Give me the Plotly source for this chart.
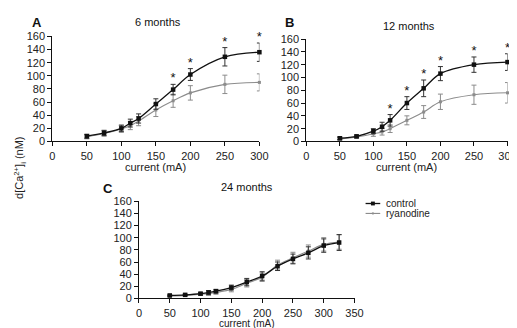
import plotly.graph_objects as go

W, H = 517, 328

# ---------------- data ----------------
x_ab = [50, 75, 100, 113, 125, 150, 175, 200, 250, 300]

a_control = [8, 13, 20, 28, 35, 57, 79, 102, 129, 136]
a_control_err = [3, 4, 5, 6, 7, 8, 8, 9, 14, 14]
a_ryan = [7, 12, 19, 24, 31, 48, 62, 74, 87, 90]
a_ryan_err = [3, 4, 5, 6, 7, 10, 10, 11, 14, 13]
a_sig = [175, 200, 250, 300]

b_control = [5, 8, 16, 23, 33, 60, 83, 106, 120, 124]
b_control_err = [2, 2, 4, 7, 9, 10, 13, 11, 12, 13]
b_ryan = [4, 7, 12, 15, 20, 33, 46, 62, 73, 76]
b_ryan_err = [2, 2, 4, 5, 6, 7, 10, 12, 15, 16]
b_sig = [125, 150, 175, 200, 250, 300]

x_c = [50, 75, 100, 113, 125, 150, 175, 200, 225, 250, 275, 300, 325]
c_control = [5, 6, 8, 10, 12, 18, 27, 37, 53, 65, 75, 87, 92]
c_control_err = [1, 1, 2, 3, 3, 4, 6, 7, 7, 8, 10, 11, 13]
c_ryan = [4, 5, 7, 8, 10, 15, 25, 35, 55, 67, 78, 89, 93]
c_ryan_err = [1, 1, 2, 3, 3, 4, 6, 7, 8, 9, 10, 11, 12]

titles = ["6 months", "12 months", "24 months"]
letters = ["A", "B", "C"]
y_ticks = [0, 20, 40, 60, 80, 100, 120, 140, 160]

FONT = "Liberation Sans, Arial, sans-serif"
BLACK = "#111111"
GRAY = "#8c8c8c"


def px(x):
    return x / W


def py(y):
    return 1 - y / H


fig = go.Figure()

panels = [
    (x_ab, a_control, a_control_err, a_ryan, a_ryan_err, a_sig, "x", "y"),
    (x_ab, b_control, b_control_err, b_ryan, b_ryan_err, b_sig, "x2", "y2"),
    (x_c, c_control, c_control_err, c_ryan, c_ryan_err, [], "x3", "y3"),
]

for xs, ctl, ctl_e, rya, rya_e, sig, xa, ya in panels:
    fig.add_trace(go.Scatter(
        x=xs, y=rya, mode="lines+markers", xaxis=xa, yaxis=ya,
        line=dict(color=GRAY, width=1.1, shape="spline", smoothing=1.0),
        marker=dict(symbol="square", size=3, color=GRAY),
        error_y=dict(type="data", array=rya_e, visible=True, color=GRAY,
                     thickness=1, width=2.5),
        showlegend=False, cliponaxis=False,
    ))
    fig.add_trace(go.Scatter(
        x=xs, y=ctl, mode="lines+markers", xaxis=xa, yaxis=ya,
        line=dict(color=BLACK, width=1.3, shape="spline", smoothing=1.0),
        marker=dict(symbol="square", size=4.5, color=BLACK),
        error_y=dict(type="data", array=ctl_e, visible=True, color="#333333",
                     thickness=1, width=2.5),
        showlegend=False, cliponaxis=False,
    ))
    if sig:
        sy = [ctl[xs.index(s)] + ctl_e[xs.index(s)] + 8 for s in sig]
        fig.add_trace(go.Scatter(
            x=sig, y=sy, mode="text", text=["*"] * len(sig),
            textposition="middle center", xaxis=xa, yaxis=ya,
            textfont=dict(family=FONT, size=13, color=BLACK),
            showlegend=False, cliponaxis=False,
        ))

axis_common = dict(
    showline=True, linecolor=BLACK, linewidth=1, ticks="outside",
    ticklen=4, tickcolor=BLACK, showgrid=False, zeroline=False,
    tickfont=dict(family=FONT, size=11, color="#222222"),
)

fig.update_layout(
    width=W, height=H,
    margin=dict(l=0, r=0, t=0, b=0),
    paper_bgcolor="white", plot_bgcolor="white",
    font=dict(family=FONT, color="#222222"),
    xaxis=dict(domain=[px(42.3), px(254.3)], range=[0, 300], tickvals=[0, 50, 100, 150, 200, 250, 300],
               anchor="y", **axis_common),
    yaxis=dict(domain=[py(132.3), py(23.3)], range=[0, 160], tickvals=y_ticks, anchor="x", **axis_common),
    xaxis2=dict(domain=[px(302.3), px(508.3)], range=[0, 300], tickvals=[0, 50, 100, 150, 200, 250, 300],
                anchor="y2", **axis_common),
    yaxis2=dict(domain=[py(132.3), py(26)], range=[0, 160], tickvals=y_ticks, anchor="x2", **axis_common),
    xaxis3=dict(domain=[px(131), px(351.7)], range=[0, 350], tickvals=[0, 50, 100, 150, 200, 250, 300, 350],
                anchor="y3", **axis_common),
    yaxis3=dict(domain=[py(295.3), py(194.3)], range=[0, 160], tickvals=y_ticks, anchor="x3", **axis_common),
)

ann = []
# panel titles
for t, (cx, cy) in zip(titles, [(150, 8.5), (407, 12.3), (242, 179.3)]):
    ann.append(dict(text=t, x=px(cx), y=py(cy), xref="paper", yref="paper", showarrow=False,
                    xanchor="center", yanchor="middle", font=dict(family=FONT, size=11, color="#111")))
# panel letters
for t, (cx, cy) in zip(letters, [(27, 8.7), (285.5, 9), (99, 181)]):
    ann.append(dict(text="<b>%s</b>" % t, x=px(cx), y=py(cy), xref="paper", yref="paper", showarrow=False,
                    xanchor="center", yanchor="middle", font=dict(family=FONT, size=13, color="#111")))
# x titles
for (cx, cy, fs) in [(148.3, 159, 11), (405.3, 159, 11), (241.3, 321, 10)]:
    ann.append(dict(text="current (mA)", x=px(cx), y=py(cy), xref="paper", yref="paper", showarrow=False,
                    xanchor="center", yanchor="middle", font=dict(family=FONT, size=fs, color="#222")))
# y title
ann.append(dict(text="d[Ca<sup>2+</sup>]<sub>i</sub> (nM)", x=px(9), y=py(160), xref="paper", yref="paper",
                showarrow=False, textangle=-90, xanchor="center", yanchor="middle",
                font=dict(family=FONT, size=11, color="#222")))
# legend text
for t, cy in [("control", 196.7), ("ryanodine", 207)]:
    ann.append(dict(text=t, x=px(382), y=py(cy), xref="paper", yref="paper", showarrow=False,
                    xanchor="left", yanchor="middle", font=dict(family=FONT, size=10, color="#222")))
fig.update_layout(annotations=ann)

# legend symbols (manual, compact)
shapes = [
    dict(type="line", xref="paper", yref="paper", x0=px(363), x1=px(378), y0=py(196.7), y1=py(196.7),
         line=dict(color=BLACK, width=1.3)),
    dict(type="rect", xref="paper", yref="paper", x0=px(368.5), x1=px(372.5), y0=py(198.7), y1=py(194.7),
         fillcolor=BLACK, line=dict(width=0)),
    dict(type="line", xref="paper", yref="paper", x0=px(363), x1=px(378), y0=py(207), y1=py(207),
         line=dict(color=GRAY, width=1.1)),
    dict(type="rect", xref="paper", yref="paper", x0=px(369.5), x1=px(371.5), y0=py(208), y1=py(206),
         fillcolor=GRAY, line=dict(width=0)),
]
fig.update_layout(shapes=shapes)

fig.write_html("out.html")
